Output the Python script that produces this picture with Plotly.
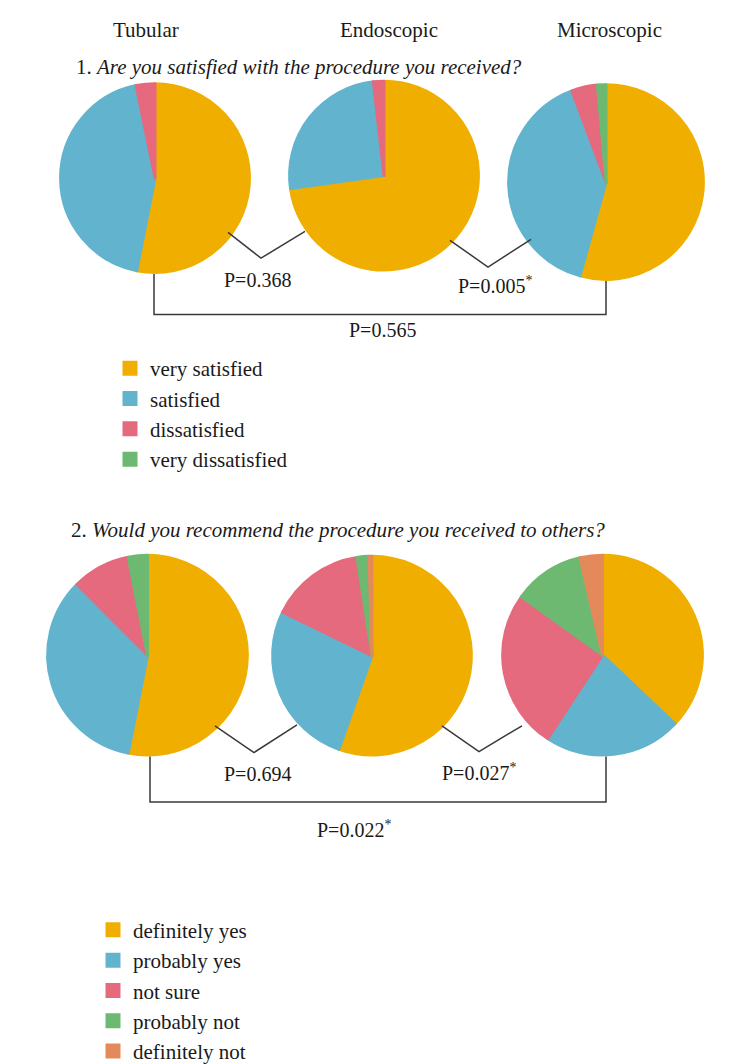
# Patient satisfaction pies: tubular vs endoscopic vs microscopic
import plotly.graph_objects as go

W, H = 730, 1064

groups = ["Tubular", "Endoscopic", "Microscopic"]

# Q1 - satisfaction (% of patients)
sat_labels = ["very satisfied", "satisfied", "dissatisfied", "very dissatisfied"]
sat_tubular = [53.1, 43.7, 3.2, 0]
sat_endoscopic = [72.8, 25.4, 1.8, 0]
sat_microscopic = [54.3, 40.0, 4.3, 1.4]

# Q2 - recommend to others (% of patients)
rec_labels = ["definitely yes", "probably yes", "not sure", "probably not", "definitely not"]
rec_tubular = [53.1, 34.4, 9.4, 3.1, 0]
rec_endoscopic = [55.4, 26.8, 15.4, 1.9, 0.5]
rec_microscopic = [37.1, 22.2, 25.7, 11.5, 3.6]

# p values between groups: (T vs E, E vs M, T vs M)
sat_p = ["P=0.368", "P=0.005<sup>*</sup>", "P=0.565"]
rec_p = ["P=0.694", "P=0.027<sup>*</sup>", "P=0.022<sup>*</sup>"]

colors = ["#F0AE00", "#62B4CE", "#E56A7E", "#6DB971", "#E4895A"]
FONT = "Liberation Serif"
EDGE = 3  # slice outline in its own colour -> bigger legend squares


def px_x(x):
    return x / W


def px_y(y):
    return 1 - y / H


def dom(cx, cy, r):
    r = r - EDGE / 2
    return dict(x=[px_x(cx - r), px_x(cx + r)], y=[px_y(cy + r), px_y(cy - r)])


fig = go.Figure()

top = [sat_tubular, sat_endoscopic, sat_microscopic]
bottom = [rec_tubular, rec_endoscopic, rec_microscopic]
top_dom = [(147, 172, 97), (376, 169.5, 97), (598, 176, 100)]
bot_dom = [(139.5, 654.5, 102.5), (364, 655, 102), (594.5, 654.5, 102.5)]


def add_pies(labels, series, doms, legend):
    cols = colors[:len(labels)]
    # microscopic first: it has every category, so the legend takes its style
    for name, vals, d in reversed(list(zip(groups, series, doms))):
        fig.add_trace(go.Pie(
            labels=labels, values=vals, name=name, domain=dom(*d),
            sort=False, direction="clockwise", rotation=0,
            marker=dict(colors=cols,
                        line=dict(color=cols, width=[EDGE if v else 0 for v in vals])),
            textinfo="none", legend=legend, showlegend=True,
        ))


add_pies(sat_labels, top, top_dom, "legend")
add_pies(rec_labels, bottom, bot_dom, "legend2")

# connector lines (V between neighbours, bracket between first & last)
line = dict(color="#3a3a3a", width=1.5)


def path(points):
    s = "M " + " L ".join(f"{px_x(x)},{px_y(y)}" for x, y in points)
    return dict(type="path", path=s, xref="paper", yref="paper", line=line)


shapes = [
    path([(220, 227), (253, 253), (297, 226)]),
    path([(442, 235), (480, 262), (523, 234)]),
    path([(146, 269), (146, 310), (598, 310), (598, 276)]),
    path([(207, 726), (246, 753), (289, 725)]),
    path([(434, 726), (471, 752), (514, 726)]),
    path([(142, 757), (142, 803), (598, 803), (598, 757)]),
]

ann = []


def text(x, y, s, size=21, anchor="center"):
    ann.append(dict(x=px_x(x), y=px_y(y), xref="paper", yref="paper", text=s,
                    showarrow=False, xanchor=anchor, yanchor="middle",
                    font=dict(family=FONT, size=size, color="#1a1a1a")))


for g, x in zip(groups, [138, 381, 601]):
    text(x, 22, g)

text(66, 60, "1. <i>Are you satisfied with the procedure you received?</i>", anchor="left")
text(61, 528, "2. <i>Would you recommend the procedure you received to others?</i>", anchor="left")

text(249, 275, sat_p[0], 20)
text(487, 280, sat_p[1], 20)
text(374, 326, sat_p[2], 20)
text(249, 775, rec_p[0], 20)
text(471, 773, rec_p[1], 20)
text(346, 830, rec_p[2], 20)

legend_style = dict(font=dict(family=FONT, size=21, color="#1a1a1a"),
                    bgcolor="rgba(0,0,0,0)", xanchor="left", yanchor="top",
                    itemclick=False, tracegroupgap=0)

fig.update_layout(
    width=W, height=H,
    margin=dict(l=0, r=0, t=0, b=0),
    paper_bgcolor="white", plot_bgcolor="white",
    shapes=shapes, annotations=ann,
    legend=dict(x=px_x(102), y=px_y(344), **legend_style),
    legend2=dict(x=px_x(85), y=px_y(912), **legend_style),
)

fig.write_html("out.html")
